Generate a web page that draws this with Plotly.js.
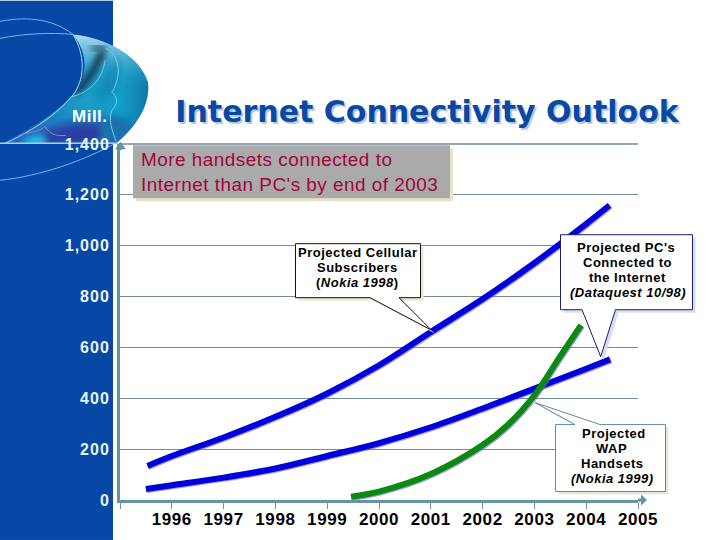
<!DOCTYPE html>
<html>
<head>
<meta charset="utf-8">
<script src="https://cdn.plot.ly/plotly-3.0.1.min.js"></script>
<style>
html,body{margin:0;padding:0;background:#fff}
#chart{width:720px;height:540px}
.xtick text{letter-spacing:.6px}
.ytick text{letter-spacing:1px}
.annotation-text{letter-spacing:.5px}
.scatterlayer .js-line{filter:drop-shadow(1px 1px 0 rgba(110,100,190,.65))}
</style>
</head>
<body>
<div id="chart"></div>
<script>
// ---- chart values ----
const cellularYears = [1995.53,1996,1997,1998,1999,2000,2001,2002,2003,2004,2004.45];
const cellularValues = [134,173,246,327,419,530,661,790,932,1086,1159];
const pcYears = [1995.5,1996,1997,1998,1999,2000,2001,2002,2003,2004,2004.46];
const pcValues = [43,58,88,124,173,224,286,360,438,516,553];
const wapYears = [1999.46,2000,2001,2002,2002.5,2003,2003.5,2003.9];
const wapValues = [13,33,102,216,298,412,566,688];
const tickYears = [1995,1996,1997,1998,1999,2000,2001,2002,2003,2004,2005];
const tickYearLabels = ['','1996','1997','1998','1999','2000','2001','2002','2003','2004','2005'];
const tickMill = [0,200,400,600,800,1000,1200,1400];
const tickMillLabels = ['0','200','400','600','800','1,000','1,200','1,400'];

// ---- page geometry helpers (decoration only) ----
const L=120,R=638,T=143.7,B=500;
const X=p=>(p-L)/(R-L), Y=p=>(B-p)/(B-T);
const poly=pts=>'M'+pts.map(p=>X(p[0]).toFixed(5)+','+Y(p[1]).toFixed(5)).join(' L')+' Z';
const paperShape=(path,fill,color,width,layer)=>({type:'path',xref:'paper',yref:'paper',path:path,fillcolor:fill,
  line:{color:color||fill,width:width===undefined?1:width},layer:layer||'above'});
const callout=(l,t,r,b,side,a,tip,c)=>{
  const pts = side==='b' ? [[l,t],[r,t],[r,b],[c,b],tip,[a,b],[l,b]]
                         : [[l,t],[a,t],tip,[c,t],[r,t],[r,b],[l,b]];
  return pts;
};
const shift=(pts,d)=>pts.map(p=>[p[0]+d,p[1]+d]);

const cellBox=callout(295.5,243.5,420.5,297.5,'b',370,[431.5,330],399);
const pcBox=callout(560.5,234.5,692.5,309.5,'b',582,[600.7,356.5],615.5);
const wapBox=callout(555.5,424.5,665.5,491.5,'t',575,[535,402.5],600);

const logo=`<svg xmlns="http://www.w3.org/2000/svg" width="160" height="540" viewBox="0 0 160 540">
<defs>
<linearGradient id="g" x1="0" y1="0" x2="1" y2="0"><stop offset="0" stop-color="#1c5cb8"/><stop offset=".55" stop-color="#1c9cc8"/><stop offset=".8" stop-color="#12a0c8"/><stop offset="1" stop-color="#1078a8"/></linearGradient>
<linearGradient id="t" x1="0" y1="0" x2="0" y2="1"><stop offset="0" stop-color="#cfe8f4" stop-opacity=".95"/><stop offset=".25" stop-color="#7cc4e0" stop-opacity=".5"/><stop offset=".5" stop-color="#2aa0cc" stop-opacity="0"/></linearGradient>
<filter id="b" x="-50%" y="-50%" width="200%" height="200%"><feGaussianBlur stdDeviation="3"/></filter>
<filter id="b2" x="-50%" y="-50%" width="200%" height="200%"><feGaussianBlur stdDeviation="6"/></filter>
<clipPath id="c"><path d="M73,34 C105,37 140,55 148,82 C151,105 135,128 116,143 L2,143 C30,130 60,110 75,92 C90,72 86,50 73,34 Z"/></clipPath>
</defs>
<rect x="0" y="0" width="113" height="540" fill="#0747a6"/>
<path d="M73,34 C105,37 140,55 148,82 C151,105 135,128 116,143 L2,143 C30,130 60,110 75,92 C90,72 86,50 73,34 Z" fill="url(#g)"/>
<g clip-path="url(#c)">
<rect x="60" y="30" width="95" height="115" fill="url(#t)"/>
<path d="M30,143 C50,125 70,118 110,122 L112,146 L30,146 Z" fill="#2a3aa0" filter="url(#b2)"/>
<path d="M100,125 C110,110 125,115 135,125 L120,146 L100,146 Z" fill="#1a70b0" filter="url(#b)"/>
<path d="M20,143 C30,136 40,132 46,138 L45,146 Z" fill="#28c8e8" filter="url(#b)"/>
<path d="M74,92 C85,85 95,70 103,50" stroke="#10324f" stroke-width="7" fill="none" filter="url(#b)"/>
<path d="M92,50 C95,46 100,46 106,50" stroke="#3a6a80" stroke-width="7" fill="none" filter="url(#b)"/>
<path d="M100,98 C110,85 115,70 115,60" stroke="#0f5f90" stroke-width="8" fill="none" filter="url(#b2)" opacity=".6"/>
</g>
<g fill="none" stroke="#78b4ee" stroke-width="1">
<path d="M0,21 C30,15 55,20 73,34"/>
<path d="M0,38 C25,33 50,32 73,34"/>
<path d="M115,143 C85,160 40,176 0,180"/>
<path d="M5,143 C45,125 65,105 75,92 C85,75 85,55 73,34" stroke="#a8d8f4"/>
<path d="M106,48 C120,55 122,75 112,92 C116,96 120,100 112,110 C108,118 112,130 116,141" stroke="#6fd0ee"/>
<path d="M70,97 C90,92 102,80 105,60" stroke="#70c8e8"/>
<path d="M18,136 C28,131 38,133 45,126 C50,135 58,136 66,135" stroke="#9a78d8"/>
</g>
<path d="M0,143 L118,143" stroke="#a8d0ee" stroke-width="1.5"/>
</svg>`;

const axisColor='#6494a6';
const gridColor='#6f8c9e';
const shapes=[
  // top gridline
  paperShape(poly([[120,143.7],[638,143.7]]),gridColor,gridColor,1),
  // axis arrows
  paperShape(poly([[638,500],[643,500]]),axisColor,axisColor,3),
  paperShape(poly([[641,494.5],[647,500],[641,505.5]]),axisColor,axisColor,0),
  paperShape(poly([[120,143],[120,150]]),axisColor,axisColor,3),
  paperShape(poly([[115,149],[120.5,141.5],[126,149]]),axisColor,axisColor,0),
  // headline box
  paperShape(poly([[136,148],[453,148],[453,201],[136,201]]),'#e6e4c8','#e6e4c8',0),
  paperShape(poly([[133,145],[450,145],[450,198],[133,198]]),'#aaaaaa','#aaaaaa',0),
  // callouts
  paperShape(poly(shift(cellBox,3)),'#e8e8d4','#e8e8d4',0),
  paperShape(poly(cellBox),'#ffffff','#111111',1),
  paperShape(poly(shift(pcBox,3)),'#d6dcf0','#d6dcf0',0),
  paperShape(poly(pcBox),'#ffffff','#1c1c70',1),
  paperShape(poly(shift(wapBox,3)),'#e4e8dc','#e4e8dc',0),
  paperShape(poly(wapBox),'#ffffff','#5f8ba3',1)
];

const note=(px,py,text,size,color,extra)=>Object.assign({
  xref:'paper',yref:'paper',x:X(px),y:Y(py),text:text,showarrow:false,
  font:{family:'"Liberation Sans",Arial,sans-serif',size:size,color:color},
  xanchor:'center',yanchor:'middle',align:'center'},extra||{});
const cap=(px,py,text)=>note(px,py,'<b>'+text+'</b>',13,'#000000');

const annotations=[
  note(90,116,'<b>Mill.</b>',17,'#ffffff'),
  note(139,171.5,"More handsets connected to<br>Internet than PC's by end of 2003",18.9,'#a0063c',{xanchor:'left',align:'left'}),
  cap(357.5,252.3,'Projected Cellular'),
  cap(357.5,267,'Subscribers'),
  cap(357.5,282.7,'(<i>Nokia 1998</i>)'),
  cap(626,247.3,"Projected PC's"),
  cap(627,262.3,'Connected to'),
  cap(627.5,277.3,'the Internet'),
  cap(627.5,292.3,'<i>(Dataquest 10/98)</i>'),
  cap(613.7,433,'Projected'),
  cap(611.5,448,'WAP'),
  cap(612.8,463.3,'Handsets'),
  cap(612.8,478.3,'<i>(Nokia 1999)</i>')
];

const line=(name,x,y,color)=>({type:'scatter',mode:'lines',name:name,x:x,y:y,hoverinfo:'skip',
  line:{color:color,width:6,shape:'spline',smoothing:1},cliponaxis:false});

const traces=[
  line('Projected Cellular Subscribers (Nokia 1998)',cellularYears,cellularValues,'#0000dc'),
  line("Projected PC's Connected to the Internet (Dataquest 10/98)",pcYears,pcValues,'#0000dc'),
  line('Projected WAP Handsets (Nokia 1999)',wapYears,wapValues,'#0b8a10')
];

const layout={
  width:720,height:540,showlegend:false,
  paper_bgcolor:'#ffffff',plot_bgcolor:'rgba(0,0,0,0)',
  margin:{l:L,r:720-R,t:T,b:540-B,pad:0},
  title:{text:'<b>Internet Connectivity Outlook</b>',x:427/720,y:1-111/540,xanchor:'center',yanchor:'middle',
    font:{family:'"DejaVu Sans",Verdana,sans-serif',size:30,color:'#0a49a3',shadow:'2px 2px 1px #b4c6de'}},
  xaxis:{range:[1995,2005],tickmode:'array',tickvals:tickYears,ticktext:tickYearLabels,
    showgrid:false,zeroline:false,showline:true,linecolor:axisColor,linewidth:3,
    ticks:'outside',ticklen:6,tickwidth:1,tickcolor:axisColor,ticklabelstandoff:-4,
    tickfont:{family:'"Liberation Sans",Arial,sans-serif',size:17,color:'#000000',weight:'bold'}},
  yaxis:{range:[0,1400],tickmode:'array',tickvals:tickMill,ticktext:tickMillLabels,
    showgrid:true,gridcolor:gridColor,gridwidth:1,zeroline:false,showline:true,linecolor:axisColor,linewidth:3,
    ticks:'outside',ticklen:4,tickcolor:'rgba(0,0,0,0)',
    tickfont:{family:'"Liberation Sans",Arial,sans-serif',size:16,color:'#eaf4fb',weight:'bold'}},
  images:[{source:'data:image/svg+xml,'+encodeURIComponent(logo),xref:'paper',yref:'paper',
    x:X(0),y:Y(0),sizex:160/(R-L),sizey:540/(B-T),xanchor:'left',yanchor:'top',sizing:'stretch',layer:'below'}],
  shapes:shapes,annotations:annotations
};
Plotly.newPlot('chart',traces,layout,{displayModeBar:false,staticPlot:true});
</script>
</body>
</html>
